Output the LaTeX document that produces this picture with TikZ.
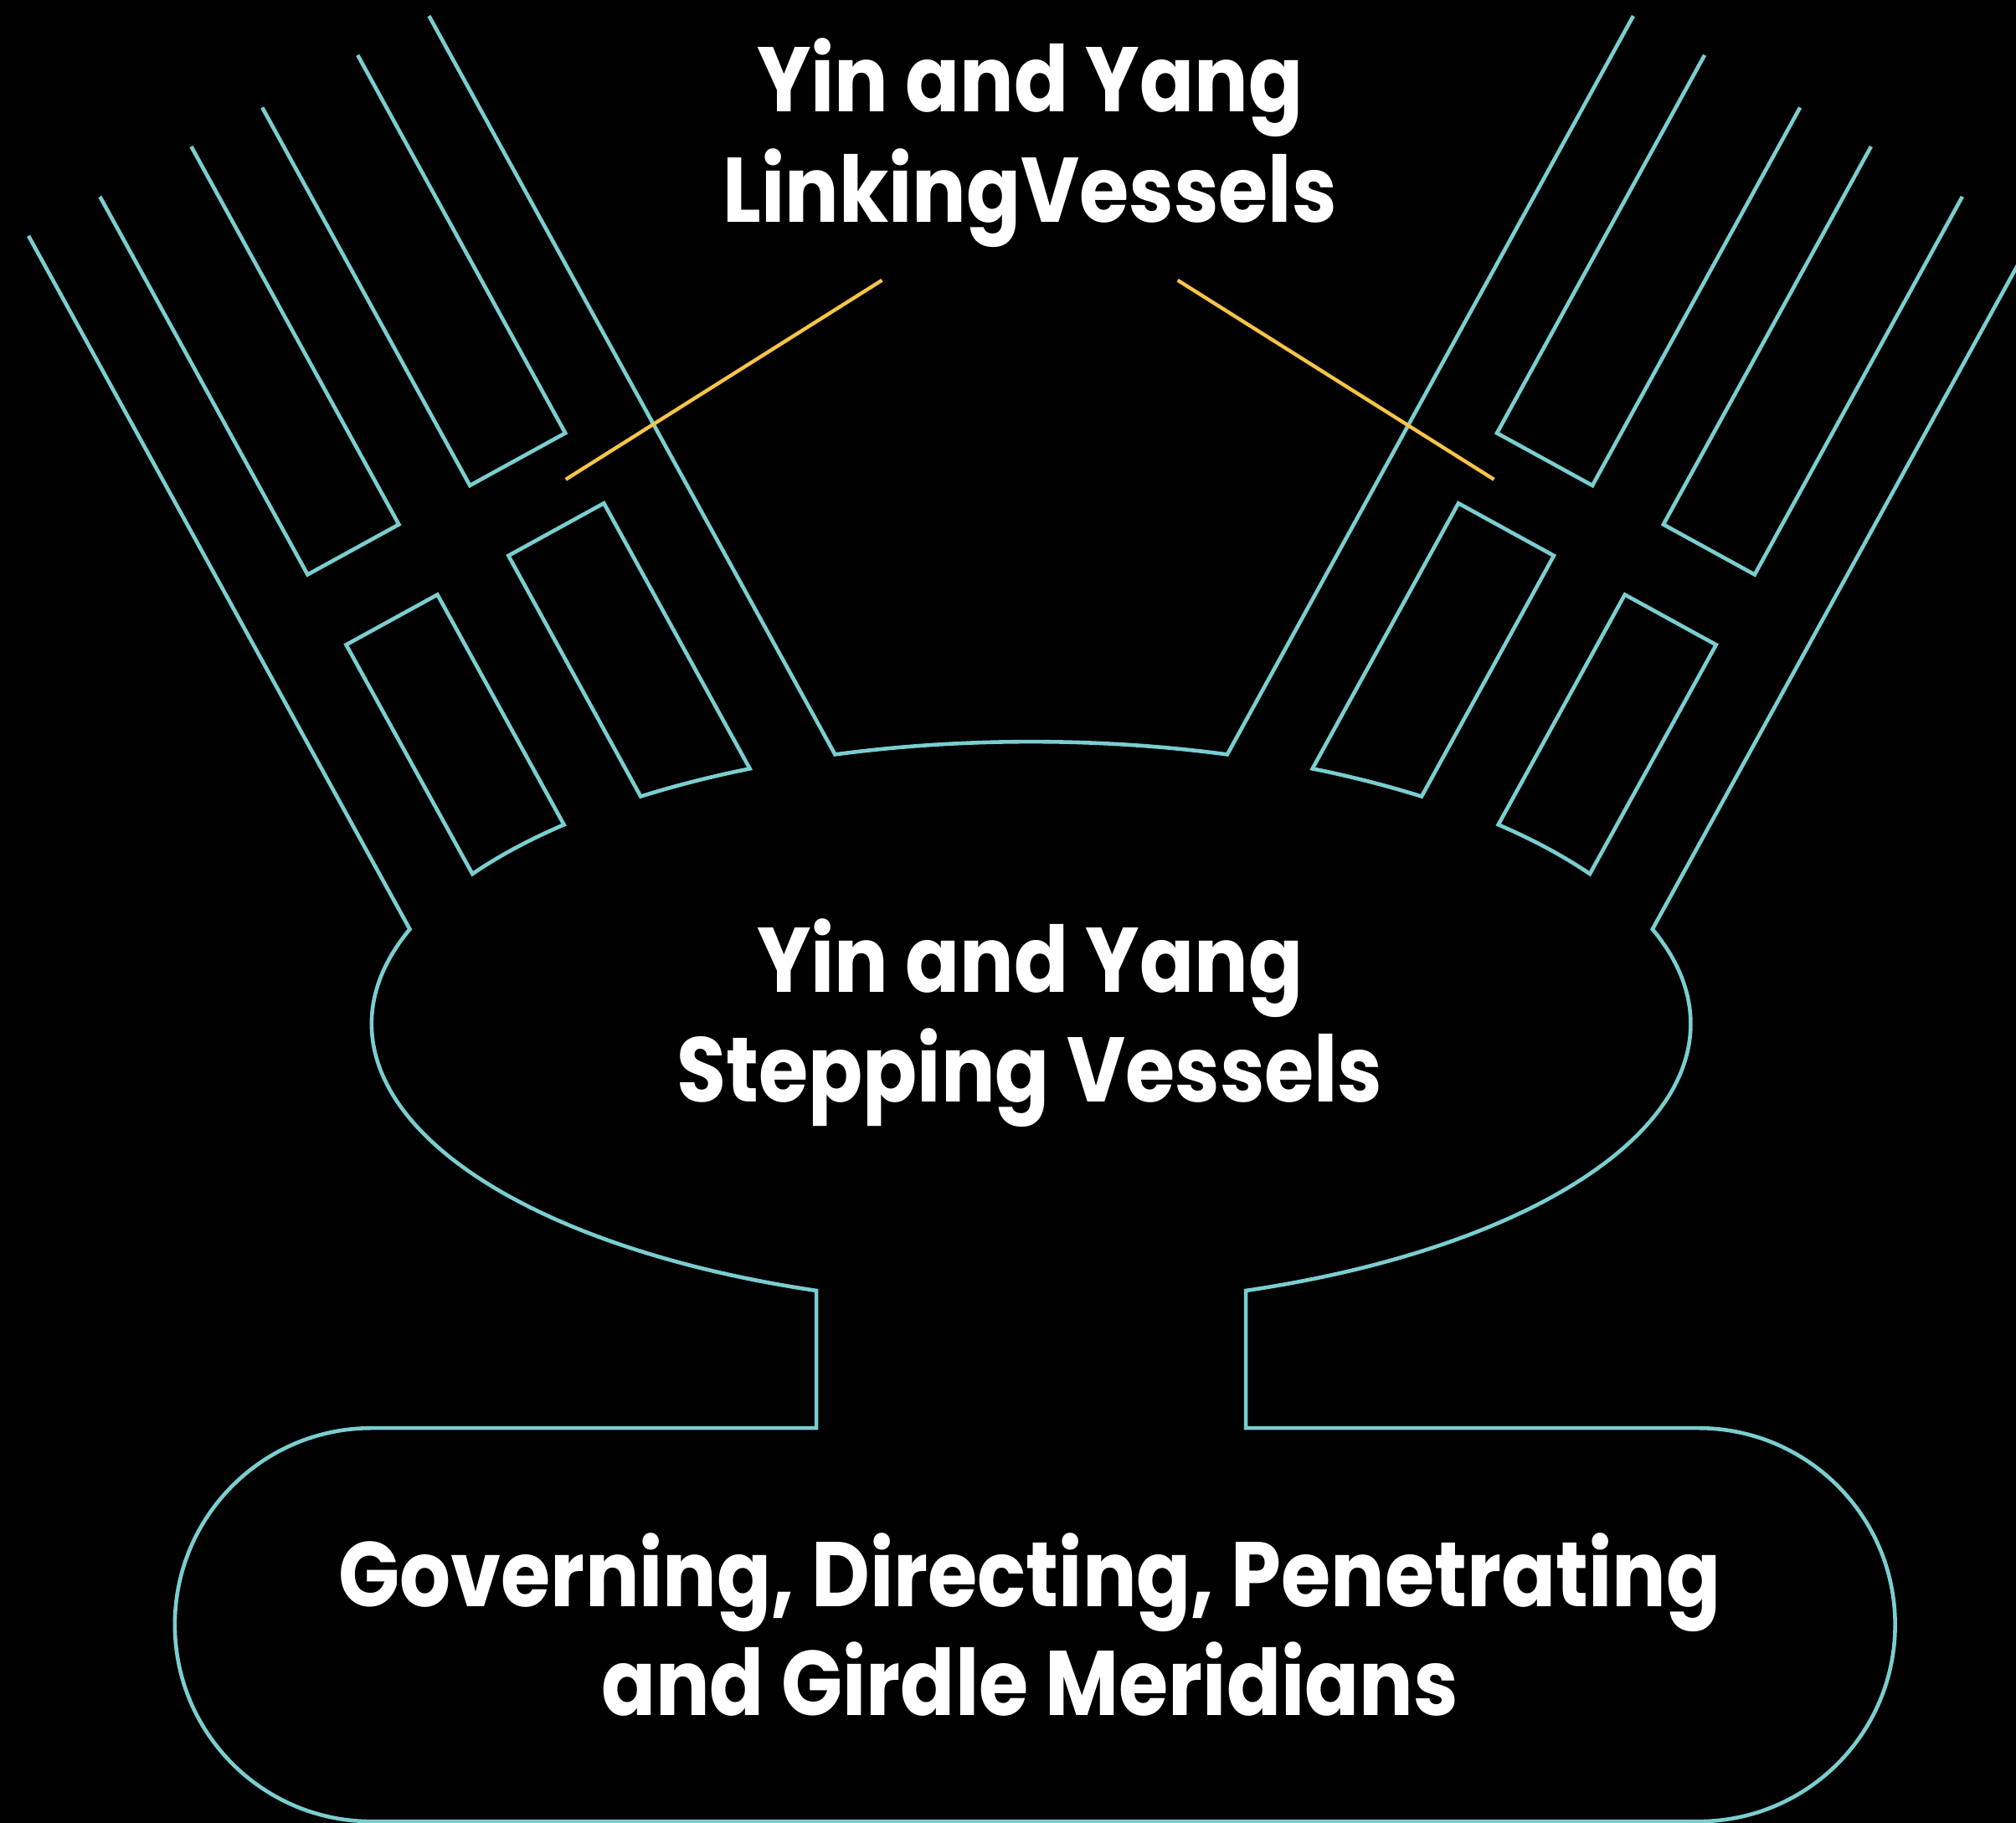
\documentclass[tikz,border=0pt]{standalone}
\usepackage{fontspec}
\newfontfamily\lblfont{Poppins}[FakeStretch=0.875]
\definecolor{vteal}{RGB}{122,206,208}
\definecolor{vgold}{RGB}{246,196,72}
\newcommand\stripepts[1]{%
 \coordinate (T1#1) at (171.5,-68.9);
 \coordinate (T2#1) at (171.5,-5.5);
 \coordinate (T3#1) at (171.5,75.5);
 \coordinate (T4#1) at (171.5,138.5);
 \coordinate (T5#1) at (171.5,223.2);
 \coordinate (T6#1) at (171.5,286.5);
 \coordinate (U2#1) at (507,-5.5);
 \coordinate (U3#1) at (507,75.5);
 \coordinate (U4#1) at (507,138.5);
 \coordinate (U5#1) at (507,223.2);
 \coordinate (B2#1) at (569.3,-5.5);
 \coordinate (B3#1) at (569.3,75.5);
 \coordinate (B4#1) at (569.3,138.5);
 \coordinate (B5#1) at (569.3,223.2);
}
\begin{document}
\begin{tikzpicture}[x=0.01cm,y=0.01cm,
  vline/.style={draw=vteal, line width=0.85pt, line join=miter},
  gline/.style={draw=vgold, line width=0.8pt},
  lbl/.style={text=white, font=\lblfont\bfseries\fontsize{20.3pt}{24pt}\selectfont, anchor=base, inner sep=0pt},
  ell/.style={x radius=513, y radius=219.5}]
\fill[black] (0,0) rectangle (1568,-1418.2);
\useasboundingbox (0,0) rectangle (1568,-1418.2);
\clip (0,0) rectangle (1568,-1418.2);

\coordinate (C) at (802,-796.5);
% ellipse points, left
\path (C) ++(160.4:513 and 219.5) coordinate (E1L);
\path (C) ++(147.9:513 and 219.5) coordinate (E2L);
\path (C) ++(135.1:513 and 219.5) coordinate (E3L);
\path (C) ++(126.3:513 and 219.5) coordinate (E4L);
\path (C) ++(115.25:513 and 219.5) coordinate (E5L);
\path (C) ++(107.3:513 and 219.5) coordinate (E6L);
\path (C) ++(251:513 and 219.5) coordinate (NL);
% ellipse points, right
\path (C) ++(19.6:513 and 219.5) coordinate (E1R);
\path (C) ++(32.1:513 and 219.5) coordinate (E2R);
\path (C) ++(44.9:513 and 219.5) coordinate (E3R);
\path (C) ++(53.7:513 and 219.5) coordinate (E4R);
\path (C) ++(64.75:513 and 219.5) coordinate (E5R);
\path (C) ++(72.7:513 and 219.5) coordinate (E6R);
\path (C) ++(289:513 and 219.5) coordinate (NR);

\coordinate (KL) at (NL |- 0,-1111);
\coordinate (KR) at (NR |- 0,-1111);
\coordinate (SL) at (289,-1111);
\coordinate (SBR) at (1321,-1417);

\begin{scope}[rotate=-61.22] \stripepts{L} \end{scope}
\begin{scope}[shift={(1604,0)}, xscale=-1, rotate=-61.22] \stripepts{R} \end{scope}

% outer outline: left fan edge, stepping-vessel blob, neck, stadium, right side
\draw[vline] (T1L) -- (E1L) arc[start angle=160.4, end angle=251, ell] -- (KL) -- (SL)
  arc[start angle=90, end angle=270, radius=153] -- (SBR)
  arc[start angle=-90, end angle=90, radius=153] -- (KR) -- (NR)
  arc[start angle=-71, end angle=19.6, ell] -- (T1R);
% inner edges with top arc
\draw[vline] (T6L) -- (E6L) arc[start angle=107.3, end angle=72.7, ell] -- (T6R);
% left stripes
\draw[vline] (T2L) -- (U2L) -- (U3L) -- (T3L);
\draw[vline] (T4L) -- (U4L) -- (U5L) -- (T5L);
\draw[vline] (B2L) -- (B3L) -- (E3L) arc[start angle=135.1, end angle=147.9, ell] -- cycle;
\draw[vline] (B4L) -- (B5L) -- (E5L) arc[start angle=115.25, end angle=126.3, ell] -- cycle;
% right stripes
\draw[vline] (T2R) -- (U2R) -- (U3R) -- (T3R);
\draw[vline] (T4R) -- (U4R) -- (U5R) -- (T5R);
\draw[vline] (B2R) -- (B3R) -- (E3R) arc[start angle=44.9, end angle=32.1, ell] -- cycle;
\draw[vline] (B4R) -- (B5R) -- (E5R) arc[start angle=64.75, end angle=53.7, ell] -- cycle;

% yellow pointers
\coordinate (YL1) at (686,-218); \coordinate (YL2) at (440,-373);
\coordinate (YR1) at (916,-218); \coordinate (YR2) at (1162,-373);
\draw[gline] (YL1) -- (YL2);
\draw[gline] (YR1) -- (YR2);

% labels
\node[lbl] (ta1) at (801,-87.2) {Yin and Yang};
\node[lbl] (ta2) at (801,-172.7) {LinkingVessels};
\node[lbl] (tb1) at (801,-772.1) {Yin and Yang};
\node[lbl] (tb2) at (801,-857.5) {Stepping Vessels};
\node[lbl] (tc1) at (801,-1249.6) {Governing, Directing, Penetrating};
\node[lbl] (tc2) at (801,-1334.6) {and Girdle Meridians};
\end{tikzpicture}
\end{document}
